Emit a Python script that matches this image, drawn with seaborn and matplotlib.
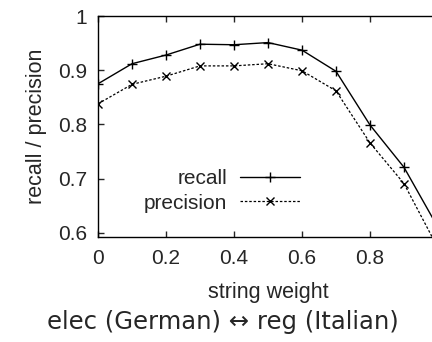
import numpy as np
import pandas as pd
import matplotlib
matplotlib.use("Agg")
import matplotlib.pyplot as plt
import seaborn as sns

# values
weights = [0.0, 0.1, 0.2, 0.3, 0.4, 0.5, 0.6, 0.7, 0.8, 0.9, 1.0]
recall = [0.875, 0.912, 0.928, 0.948, 0.947, 0.951, 0.937, 0.898, 0.799, 0.721, 0.61]
precision = [0.838, 0.874, 0.889, 0.908, 0.908, 0.912, 0.899, 0.862, 0.766, 0.691, 0.572]
xticks = [0, 0.2, 0.4, 0.6, 0.8]
xticklabels = ["0", "0.2", "0.4", "0.6", "0.8"]
yticks = [0.6, 0.7, 0.8, 0.9, 1.0]
yticklabels = ["0.6", "0.7", "0.8", "0.9", "1"]

sns.set_style("ticks")
plt.rcParams["font.family"] = ["Liberation Sans", "DejaVu Sans"]

df = pd.DataFrame({"weight": weights, "recall": recall, "precision": precision})

fig = plt.figure(figsize=(4.32, 3.42), dpi=100)
W, H = 432, 342
# axes extends past the right edge like the cropped original
ax = fig.add_axes([98 / W, 1 - 237 / H, (438 - 98) / W, (237 - 16) / H])

sns.lineplot(data=df, x="weight", y="recall", ax=ax, color="black", lw=1.0,
             marker="+", markersize=7.5, markeredgewidth=1.0, markeredgecolor="black",
             label="recall")
sns.lineplot(data=df, x="weight", y="precision", ax=ax, color="black", lw=0.9,
             linestyle=(0, (2, 1.5)), marker="x", markersize=6, markeredgewidth=1.0,
             markeredgecolor="black", label="precision")

ax.set_xlim(0, 1.0)
ax.set_ylim(0.5925, 1.0)
ax.set_xticks(xticks)
ax.set_xticklabels(xticklabels)
ax.set_yticks(yticks)
ax.set_yticklabels(yticklabels)
ax.tick_params(direction="in", length=4, width=1, labelsize=15, pad=9,
               top=True, right=False)
ax.tick_params(axis="y", pad=8)
for s in ax.spines.values():
    s.set_linewidth(1.0)
    s.set_color("black")
ax.spines["right"].set_visible(False)

ax.set_xlabel("string weight", fontsize=15.5, labelpad=10)
ax.set_ylabel("recall / precision", fontsize=15.5, labelpad=8)

leg = ax.legend(loc="center right", bbox_to_anchor=(300 / W, 1 - 191 / H),
                bbox_transform=fig.transFigure, frameon=False, fontsize=15,
                markerfirst=False, handlelength=2.9, handletextpad=0.6,
                labelspacing=0.25, borderaxespad=0, borderpad=0)

fig.text(223 / W, 1 - 322 / H, "elec (German) \u2194 reg (Italian)",
         ha="center", va="center", fontsize=17.5, family=["DejaVu Sans"])

fig.savefig("out.png", dpi=100)
